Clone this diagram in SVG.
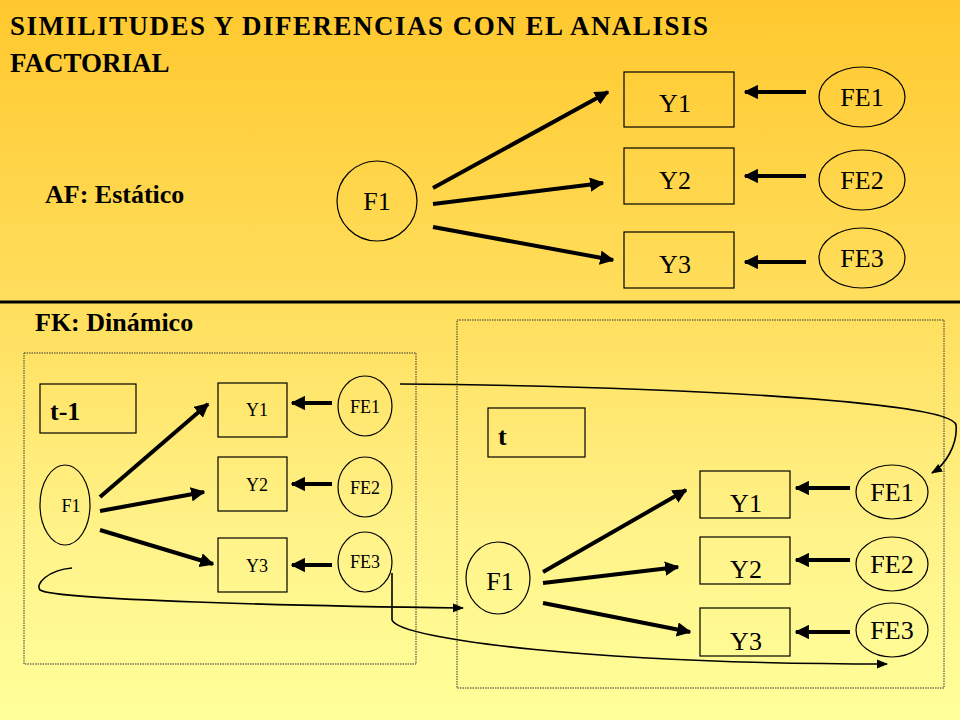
<svg xmlns="http://www.w3.org/2000/svg" width="960" height="720" viewBox="0 0 960 720">
<defs>
<linearGradient id="bg" x1="0" y1="0" x2="0" y2="1">
<stop offset="0" stop-color="#FFC82E"/><stop offset="0.45" stop-color="#FFE060"/><stop offset="0.75" stop-color="#FFF38A"/><stop offset="1" stop-color="#FFFF99"/>
</linearGradient>
<marker id="ah" viewBox="0 0 10 10" refX="9" refY="5" markerWidth="3.6" markerHeight="3.6" orient="auto"><path d="M0,0 L10,5 L0,10 z" fill="#000"/></marker>
<marker id="as" viewBox="0 0 10 10" refX="9" refY="5" markerWidth="7" markerHeight="7" orient="auto"><path d="M0,1 L10,5 L0,9 z" fill="#000"/></marker>
<style>
text{font-family:"Liberation Serif","Times New Roman","DejaVu Serif",serif;fill:#000}
.b{font-weight:bold}
.n{fill:none;stroke:#000;stroke-width:1.2}
.a{stroke:#000;stroke-width:4;fill:none;marker-end:url(#ah)}
.c{stroke:#000;stroke-width:1.6;fill:none;marker-end:url(#as)}
.d{fill:none;stroke:#333;stroke-width:1;stroke-dasharray:1.5 1}
</style>
</defs>
<rect width="960" height="720" fill="url(#bg)"/>
<line x1="0" y1="302" x2="960" y2="302" stroke="#000" stroke-width="3"/>
<text class="b" x="10" y="35" font-size="27" letter-spacing="1.5">SIMILITUDES Y DIFERENCIAS CON EL ANALISIS</text>
<text class="b" x="10" y="72" font-size="27">FACTORIAL</text>
<text class="b" x="45" y="203" font-size="26">AF: Estático</text>
<text class="b" x="35" y="331" font-size="26">FK: Dinámico</text>
<rect class="d" x="24" y="353" width="392" height="311"/>
<rect class="d" x="457" y="320" width="487" height="368"/>
<g id="top-F1"><ellipse class="n" cx="377" cy="201" rx="40" ry="40"/><text x="377" y="210" font-size="26" text-anchor="middle">F1</text></g>
<g id="top-Y1"><rect class="n" x="624" y="72" width="110" height="55"/><text x="675" y="112" font-size="26" text-anchor="middle">Y1</text></g>
<g id="top-Y2"><rect class="n" x="624" y="148" width="110" height="56"/><text x="675" y="189" font-size="26" text-anchor="middle">Y2</text></g>
<g id="top-Y3"><rect class="n" x="624" y="232" width="110" height="56"/><text x="675" y="273" font-size="26" text-anchor="middle">Y3</text></g>
<g id="top-FE1"><ellipse class="n" cx="862" cy="97" rx="43" ry="30"/><text x="862" y="106" font-size="26" text-anchor="middle">FE1</text></g>
<g id="top-FE2"><ellipse class="n" cx="862" cy="180" rx="43" ry="30"/><text x="862" y="189" font-size="26" text-anchor="middle">FE2</text></g>
<g id="top-FE3"><ellipse class="n" cx="862" cy="258" rx="43" ry="30"/><text x="862" y="267" font-size="26" text-anchor="middle">FE3</text></g>
<g id="l-t1"><rect class="n" x="40" y="384" width="96" height="49"/><text class="b" x="50" y="420" font-size="26">t-1</text></g>
<g id="l-F1"><ellipse class="n" cx="65" cy="505" rx="25" ry="40"/><text x="71" y="512" font-size="18" text-anchor="middle">F1</text></g>
<g id="l-Y1"><rect class="n" x="218" y="383" width="69" height="54"/><text x="257" y="416" font-size="18" text-anchor="middle">Y1</text></g>
<g id="l-Y2"><rect class="n" x="218" y="457" width="69" height="54"/><text x="257" y="491" font-size="18" text-anchor="middle">Y2</text></g>
<g id="l-Y3"><rect class="n" x="218" y="538" width="69" height="54"/><text x="257" y="572" font-size="18" text-anchor="middle">Y3</text></g>
<g id="l-FE1"><ellipse class="n" cx="365" cy="406" rx="27" ry="30"/><text x="365" y="413" font-size="18" text-anchor="middle">FE1</text></g>
<g id="l-FE2"><ellipse class="n" cx="365" cy="487" rx="27" ry="30"/><text x="365" y="494" font-size="18" text-anchor="middle">FE2</text></g>
<g id="l-FE3"><ellipse class="n" cx="365" cy="562" rx="27" ry="30"/><text x="365" y="568" font-size="18" text-anchor="middle">FE3</text></g>
<g id="r-t"><rect class="n" x="488" y="408" width="97" height="49"/><text class="b" x="498" y="445" font-size="26">t</text></g>
<g id="r-F1"><ellipse class="n" cx="498" cy="578" rx="32" ry="36"/><text x="500" y="590" font-size="26" text-anchor="middle">F1</text></g>
<g id="r-Y1"><rect class="n" x="700" y="471" width="90" height="47"/><text x="746" y="512" font-size="26" text-anchor="middle">Y1</text></g>
<g id="r-Y2"><rect class="n" x="700" y="537" width="90" height="47"/><text x="746" y="578" font-size="26" text-anchor="middle">Y2</text></g>
<g id="r-Y3"><rect class="n" x="700" y="608" width="90" height="48"/><text x="746" y="650" font-size="26" text-anchor="middle">Y3</text></g>
<g id="r-FE1"><ellipse class="n" cx="892" cy="492" rx="36" ry="27"/><text x="892" y="501" font-size="26" text-anchor="middle">FE1</text></g>
<g id="r-FE2"><ellipse class="n" cx="892" cy="564" rx="36" ry="27"/><text x="892" y="573" font-size="26" text-anchor="middle">FE2</text></g>
<g id="r-FE3"><ellipse class="n" cx="892" cy="630" rx="36" ry="27"/><text x="892" y="639" font-size="26" text-anchor="middle">FE3</text></g>
<g id="connectors">
<line class="a" x1="433" y1="188" x2="608" y2="92"/>
<line class="a" x1="433" y1="204" x2="603" y2="183"/>
<line class="a" x1="433" y1="227" x2="613" y2="260"/>
<line class="a" x1="806" y1="92" x2="745" y2="92"/>
<line class="a" x1="806" y1="176" x2="745" y2="176"/>
<line class="a" x1="806" y1="262" x2="745" y2="262"/>
<line class="a" x1="100" y1="497" x2="208" y2="404"/>
<line class="a" x1="100" y1="511" x2="204" y2="492"/>
<line class="a" x1="100" y1="530" x2="213" y2="564"/>
<line class="a" x1="332" y1="403" x2="292" y2="403"/>
<line class="a" x1="332" y1="484" x2="292" y2="484"/>
<line class="a" x1="332" y1="565" x2="292" y2="565"/>
<line class="a" x1="543" y1="572" x2="686" y2="490"/>
<line class="a" x1="543" y1="583" x2="678" y2="567"/>
<line class="a" x1="543" y1="603" x2="690" y2="632"/>
<line class="a" x1="850" y1="488" x2="796" y2="488"/>
<line class="a" x1="850" y1="560" x2="796" y2="560"/>
<line class="a" x1="850" y1="632" x2="796" y2="632"/>
<path class="c" d="M72,568 C48,570 35,584 40,590 C55,600 300,606 463,608"/>
<path class="c" d="M392,573 L392,620 C400,640 600,664 887,664"/>
<path class="c" d="M400,384 C650,386 950,400 956,425 C958,445 945,465 932,473"/>
</g>
</svg>
